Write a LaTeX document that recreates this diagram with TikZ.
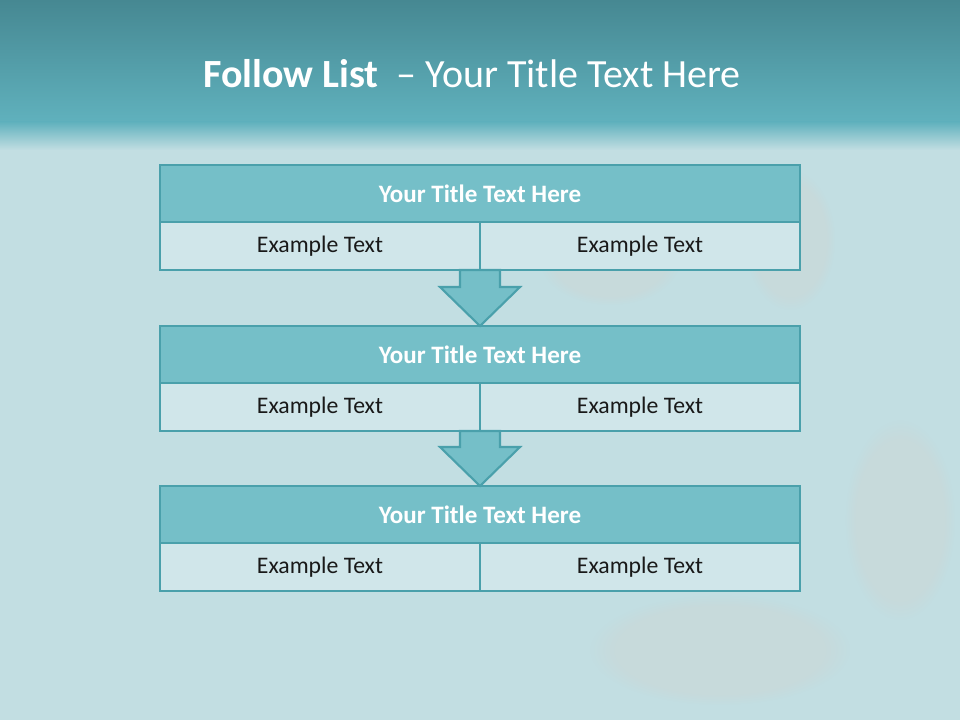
\documentclass[tikz,border=0pt]{standalone}
\usepackage{fontspec}
\setmainfont{Carlito}
\usepackage{tikz}
\usetikzlibrary{positioning,calc,backgrounds,fadings}

\definecolor{bannertop}{RGB}{70,136,146}
\definecolor{bannerlow}{RGB}{96,177,189}
\definecolor{wallblue}{RGB}{194,222,226}
\definecolor{wallrose}{RGB}{218,204,196}
\definecolor{edgeteal}{RGB}{74,160,171}
\definecolor{headteal}{RGB}{117,191,200}
\definecolor{cellblue}{RGB}{208,230,234}

\newcommand{\flowarrow}[2]{%
  \draw[flow] let \p1=(#1), \p2=(#2) in
    (\x2-15pt,\y1) -- (\x2+15pt,\y1) -- (\x2+15pt,\y2+29.25pt)
    -- (\x2+30pt,\y2+29.25pt) -- (\x2,\y2) -- (\x2-30pt,\y2+29.25pt)
    -- (\x2-15pt,\y2+29.25pt) -- cycle;}

\begin{document}
\begin{tikzpicture}[
    x=0.75pt, y=-0.75pt,
    header/.style={rectangle, draw=edgeteal, fill=headteal, line width=2pt, minimum width=480pt, minimum height=42.75pt, outer sep=0pt, inner sep=0pt, font=\fontsize{18.8}{22}\selectfont\bfseries, text=white},
    cell/.style={rectangle, draw=edgeteal, fill=cellblue, line width=2pt, minimum width=240pt, minimum height=36pt, outer sep=0pt, inner sep=0pt, font=\fontsize{17.8}{21}\selectfont, text=black!90},
    flow/.style={draw=edgeteal, fill=headteal, line width=1.6pt, line join=miter},
    stain/.style={fill=wallrose, path fading=circle with fuzzy edge 20 percent, opacity=0.22}
]
\useasboundingbox (0,0) rectangle (960,720);

% Background: banner and wall
\fill[wallblue] (0,0) rectangle (960,720);
\shade[top color=bannertop, bottom color=bannerlow] (0,0) rectangle (960,122);
\shade[top color=bannerlow, bottom color=wallblue] (0,122) rectangle (960,150);
\fill[stain] (610,260) ellipse (70 and 45);
\fill[stain] (790,240) ellipse (45 and 70);
\fill[stain] (900,520) ellipse (55 and 100);
\fill[stain] (720,650) ellipse (130 and 55);

% Title
\node[anchor=base west, text=white, font=\fontsize{30}{36}\selectfont, inner sep=0pt] (title) at (203,88)
    {\textbf{Follow List}\ \ -- Your Title Text Here};

% Step 1
\node[header] (t1) at (480,193.5) {Your Title Text Here};
\node[cell, anchor=north west] (a1) at (t1.south west) {Example Text};
\node[cell, anchor=north east] (b1) at (t1.south east) {Example Text};

% Step 2
\node[header] (t2) at (480,354.5) {Your Title Text Here};
\node[cell, anchor=north west] (a2) at (t2.south west) {Example Text};
\node[cell, anchor=north east] (b2) at (t2.south east) {Example Text};

% Step 3
\node[header] (t3) at (480,514.5) {Your Title Text Here};
\node[cell, anchor=north west] (a3) at (t3.south west) {Example Text};
\node[cell, anchor=north east] (b3) at (t3.south east) {Example Text};

% Arrows between steps
\flowarrow{a1.south east}{t2.north}
\flowarrow{a2.south east}{t3.north}

\end{tikzpicture}
\end{document}
